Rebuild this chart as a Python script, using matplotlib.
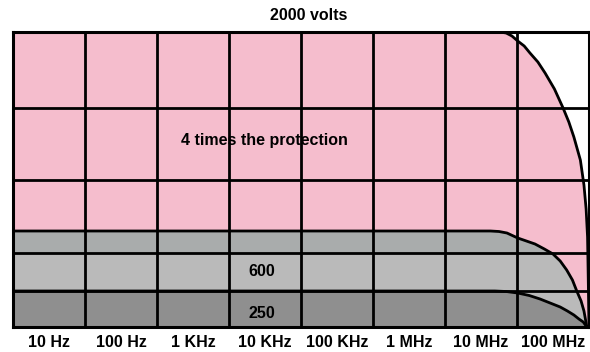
import numpy as np
import matplotlib
matplotlib.use("Agg")
import matplotlib.pyplot as plt

plt.rcParams['font.family'] = ['Liberation Sans Narrow', 'Liberation Sans', 'DejaVu Sans']
plt.rcParams['font.weight'] = 'bold'

# frequency decades (one column each)
freq_labels = ['10 Hz', '100 Hz', '1 KHz', '10 KHz', '100 KHz', '1 MHz', '10 MHz', '100 MHz']

# level units: 0 = bottom of chart, 295 = 2000 volts
grid_levels = [36, 74, 147, 219]

# 2000 volt curve (pink)
top_x = [0, 6.76, 6.85, 6.93, 7.01, 7.1, 7.18, 7.29, 7.39, 7.52, 7.64, 7.72, 7.79, 7.88, 7.93, 7.96, 7.98, 7.99, 8.0]
top_y = [295, 295, 294, 291, 286, 281, 274, 265, 254, 238, 219, 205, 190, 167, 142, 118, 90, 47, 0]

# 600 curve (light gray)
mid_x = [0, 6.63, 6.75, 6.86, 7.01, 7.13, 7.25, 7.38, 7.5, 7.6, 7.69, 7.77, 7.83, 7.89, 7.93, 7.97]
mid_y = [96, 96, 95.5, 94, 89, 86, 83, 78, 73, 66, 57, 47, 36, 26, 16, 0]

# 250 curve (dark gray)
low_x = [0, 6.69, 6.85, 7.01, 7.17, 7.32, 7.46, 7.6, 7.7, 7.79, 7.86, 7.92, 7.97]
low_y = [36, 36, 35.5, 34, 31.5, 28, 24, 20, 16, 12, 8, 5, 0]

fig = plt.figure(figsize=(5.9, 3.52), dpi=100)
ax = fig.add_axes([13 / 590, 25 / 352, 576 / 590, 295 / 352])

ax.fill_between(top_x, 0, top_y, color='#F5BDCD', lw=0, zorder=1)
ax.fill_between(mid_x, 0, mid_y, color='#BABABA', lw=0, zorder=2)
mid_y_arr = np.array(mid_y)
ax.fill_between(mid_x, np.minimum(mid_y_arr, 74), mid_y_arr, color='#A9ACAC', lw=0, zorder=2)
ax.fill_between(low_x, 0, low_y, color='#8F8F8F', lw=0, zorder=3)

for lv in grid_levels:
    ax.axhline(lv, color='black', lw=2, zorder=4)
for i in range(1, 8):
    ax.axvline(i, color='black', lw=2, zorder=4)

ax.plot(top_x, top_y, color='black', lw=2, zorder=5)
ax.plot(mid_x, mid_y, color='black', lw=2, zorder=5)
ax.plot(low_x, low_y, color='black', lw=2, zorder=5)

ax.set_xlim(0, 8)
ax.set_ylim(0, 295)
for s in ax.spines.values():
    s.set_linewidth(2.2)
    s.set_zorder(6)

ax.set_xticks(np.arange(8) + 0.5)
ax.set_xticklabels(freq_labels, fontsize=11.5, fontweight='bold')
ax.tick_params(axis='x', length=0, pad=6)
ax.set_yticks([])

ax.text(4.1, 304, '2000 volts', ha='center', va='bottom', fontsize=11.5, fontweight='bold')
ax.text(3.49, 187, '4 times the protection', ha='center', va='center', fontsize=11.5, fontweight='bold', zorder=7)
ax.text(3.46, 56, '600', ha='center', va='center', fontsize=11.5, fontweight='bold', zorder=7)
ax.text(3.46, 14, '250', ha='center', va='center', fontsize=11.5, fontweight='bold', zorder=7)

fig.savefig('out.png', dpi=100)
